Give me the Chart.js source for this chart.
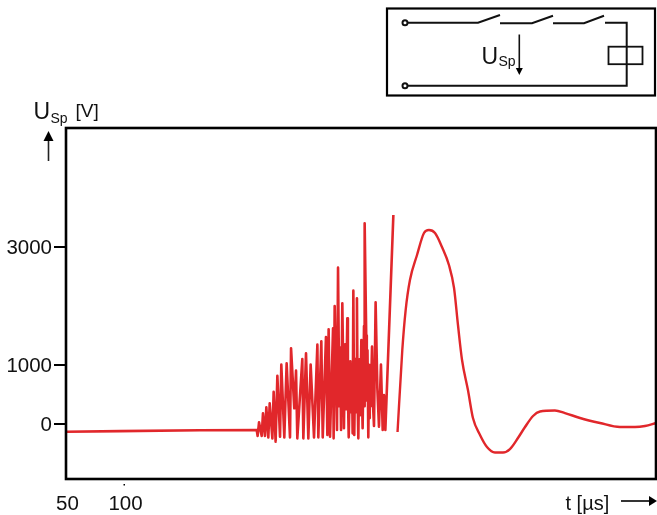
<!DOCTYPE html>
<html><head><meta charset="utf-8">
<style>html,body{margin:0;padding:0;background:#fff}#w{width:657px;height:515px;position:relative}</style>
<script src="https://cdn.jsdelivr.net/npm/chart.js@4"></script></head>
<body><div id="w"><canvas id="c" width="657" height="515"></canvas></div>
<script>
const burstTimeUs = [50,96.5,165.5,214.4,215.2,216.4,218.7,219.8,221.5,222.7,224.4,225.6,227.9,229.0,230.7,232.2,234.5,235.6,238.2,240.2,243.1,244.0,246.8,248.3,249.4,253.7,254.6,256.9,258.9,260.9,263.8,266.7,267.5,270.1,271.3,274.1,275.3,276.4,277.6,280.2,280.7,281.6,283.0,283.6,284.5,285.6,286.2,287.1,288.2,289.2,289.6,290.6,291.3,292.5,293.0,293.7,295.1,295.9,296.5,297.1,297.7,298.3,298.5,299.4,300.0,300.8,301.4,302.0,302.9,303.5,304.6,305.2,305.7,306.9,307.2,307.7,308.8,309.3,309.9,310.6,311.3,311.7,312.0,312.6,313.8,314.7,315.5,316.9,318.4,319.8,321.5,323.0,324.1,325.3,332.2];
const burstVoltage = [-130,-120,-107,-102,-203,28,-203,181,-203,283,-226,351,-243,548,-299,819,-215,1006,-226,1029,-226,1283,266,904,-243,1102,-243,1198,-243,1006,-226,1345,-226,1401,-226,1475,-186,1605,-215,1622,-243,2000,500,-102,2650,300,1300,-102,2046,600,-73,1350,250,1791,500,-226,1062,200,800,-158,2260,400,-186,1100,200,2130,400,-243,1096,150,1424,400,-73,1661,300,3401,1500,400,1250,-226,1000,100,859,300,1311,300,-34,2062,600,-45,1006,-102,492,-102,3543];
const pulseTimeUs = [335.8,339.9,342.8,346.5,352.6,358.6,362.9,368.1,374.1,380.1,384.5,387.9,391.4,396.5,400.8,406.9,412.9,419.8,426.7,432.7,439.6,445.7,452.6,458.6,471.5,480.1,493.1,510.3,527.5,540.5,549.1,558.6];
const pulseVoltage = [-136,1254,1932,2441,2865,3237,3288,3237,3000,2695,2305,1678,1085,576,102,-186,-390,-483,-483,-424,-237,-51,136,212,229,186,102,17,-51,-51,-34,17];
const yTickValues = [0,1000,3000];
const xTickValues = [50,100];
const yName = ['U','Sp','[V]'];
const xName = 't [µs]';
const circuitLabel = ['U','Sp'];

const FONT = '"Liberation Sans", Arial, sans-serif';
function arrow(g,x1,y1,x2,y2,w,l,lw){
  const a=Math.atan2(y2-y1,x2-x1);
  g.lineWidth=lw;g.beginPath();g.moveTo(x1,y1);g.lineTo(x2-l*Math.cos(a),y2-l*Math.sin(a));g.stroke();
  g.beginPath();g.moveTo(x2,y2);
  g.lineTo(x2-l*Math.cos(a)+w/2*Math.sin(a),y2-l*Math.sin(a)-w/2*Math.cos(a));
  g.lineTo(x2-l*Math.cos(a)-w/2*Math.sin(a),y2-l*Math.sin(a)+w/2*Math.cos(a));
  g.closePath();g.fill();
}
function path(g,p,lw){g.lineWidth=lw;g.beginPath();p.forEach((q,i)=>i?g.lineTo(q[0],q[1]):g.moveTo(q[0],q[1]));g.stroke();}
const decor={id:'decor',afterDraw(ch){
  const g=ch.ctx,a=ch.chartArea;
  g.save();g.strokeStyle='#000';g.fillStyle='#000';
  g.lineWidth=2.6;g.strokeRect(a.left,a.top,a.right-a.left,a.bottom-a.top);
  g.fillRect(ch.scales.x.getPixelForValue(100)-0.5,484,1.5,1.5);
  g.textBaseline='alphabetic';g.textAlign='left';g.fillStyle='#111';
  g.font='23px '+FONT;g.fillText(yName[0],33.5,119);
  g.font='14px '+FONT;g.fillText(yName[1],50.5,123);
  g.font='19px '+FONT;g.fillText(yName[2],75.5,117);
  g.font='20px '+FONT;g.fillText(xName,565.5,510);
  g.strokeStyle='#222';g.fillStyle='#000';
  arrow(g,48.5,161,48.5,131,10,10,1.6);
  g.strokeStyle='#000';
  arrow(g,621,501,657,501,10,8,1.6);
  g.lineWidth=2.2;g.strokeRect(387,8.5,268,87);
  g.strokeStyle='#111';
  path(g,[[408,22.8],[478,22.8],[500,15]],2);
  path(g,[[500,23.3],[532,23.3],[553,15.7]],2);
  path(g,[[553,23.3],[584,23.3],[604,15.7]],2);
  path(g,[[605,22.8],[626.7,22.8],[626.7,85.7],[408,85.7]],2);
  g.lineWidth=1.8;g.strokeRect(608.5,46.7,34,17.5);
  [22.8,85.7].forEach(y=>{g.lineWidth=2;g.beginPath();g.arc(405,y,2.5,0,7);g.stroke();});
  arrow(g,519.3,34.5,519.3,75,7,7,1.6);
  g.fillStyle='#111';
  g.font='23px '+FONT;g.fillText(circuitLabel[0],481.5,63.5);
  g.font='14px '+FONT;g.fillText(circuitLabel[1],498.5,66);
  g.restore();
}};
new Chart(document.getElementById('c'),{
  type:'scatter',
  data:{datasets:[
    {data:burstTimeUs.map((t,i)=>({x:t,y:burstVoltage[i]})),showLine:true,borderColor:'#e1272b',borderWidth:2.6,pointRadius:0,tension:0,borderJoinStyle:'round',clip:false},
    {data:pulseTimeUs.map((t,i)=>({x:t,y:pulseVoltage[i]})),showLine:true,borderColor:'#e1272b',borderWidth:2.4,pointRadius:0,cubicInterpolationMode:'monotone',clip:false}
  ]},
  plugins:[decor],
  options:{responsive:false,animation:false,devicePixelRatio:1,
    layout:{padding:{top:128,right:1,left:0,bottom:0}},
    plugins:{legend:{display:false},tooltip:{enabled:false}},
    scales:{
      x:{type:'linear',min:50,max:558.6,grid:{display:false,drawTicks:false},border:{display:false},
        afterFit(s){s.height=36;},
        afterBuildTicks(s){s.ticks=xTickValues.map(v=>({value:v}));},
        ticks:{autoSkip:false,maxRotation:0,padding:13,labelOffset:1.5,color:'#111',font:{family:FONT,size:20.5},callback:v=>String(v)}},
      y:{type:'linear',min:-932,max:5017,border:{display:false},
        grid:{display:true,drawOnChartArea:false,drawTicks:true,tickLength:12,color:'#000',lineWidth:2},
        afterFit(s){s.width=66;},
        afterBuildTicks(s){s.ticks=yTickValues.map(v=>({value:v}));},
        ticks:{autoSkip:false,padding:2,labelOffset:1.5,color:'#111',font:{family:FONT,size:20.5},callback:v=>String(v)}}
    }
  }
});
</script></body></html>
